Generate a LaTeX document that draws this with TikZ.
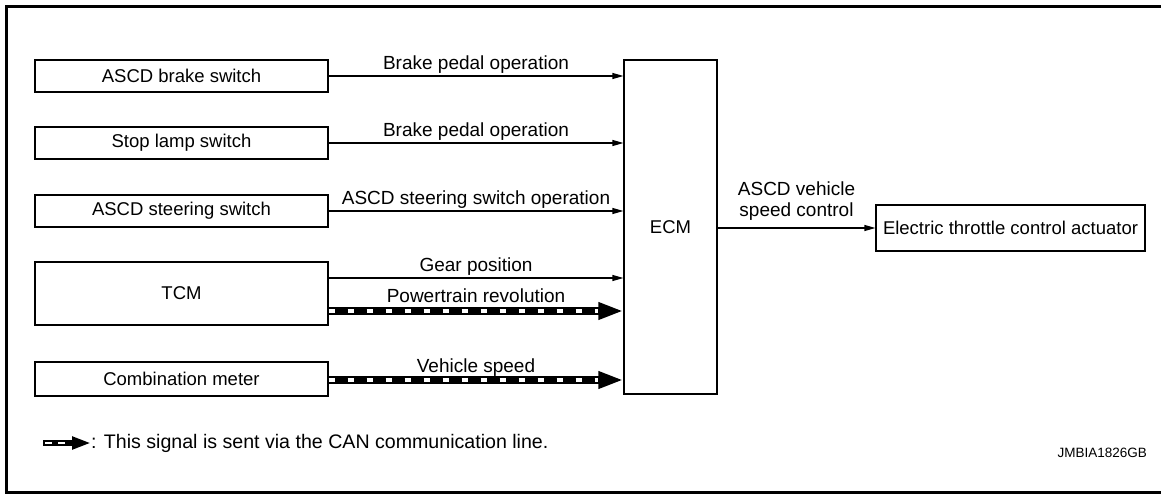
\documentclass[tikz,border=0pt]{standalone}
\usepackage{fontspec}
\setmainfont{Liberation Sans}
\usetikzlibrary{arrows.meta,calc}
\begin{document}
\begin{tikzpicture}[x=1pt,y=-1pt,
  box/.style={draw,line width=1.2pt,inner sep=0pt,font=\fontsize{18.5}{20}\selectfont},
  lbl/.style={inner sep=0pt,anchor=base,font=\fontsize{19}{20}\selectfont},
  sig/.style={line width=1.2pt,-{Triangle[length=11pt,width=6pt]}},
  canblack/.style={line width=8pt,-{Triangle[length=25pt,width=16pt]}},
  canwhite/.style={line width=4pt,white,dash pattern=on 6.5pt off 12.5pt}
]
\useasboundingbox (0,0) rectangle (1161,494);
\draw[line width=3pt] (6.5,6.5) rectangle (1164,492.5);

\node[box,minimum width=293pt,minimum height=32pt] (b1) at (181.5,76) {ASCD brake switch};
\node[box,minimum width=293pt,minimum height=32pt] (b2) at (181.5,143) {Stop lamp switch};
\node[box,minimum width=293pt,minimum height=32pt] (b3) at (181.5,211) {ASCD steering switch};
\node[box,minimum width=293pt,minimum height=63pt] (tcm) at (181.5,293.5) {TCM};
\node[box,minimum width=293pt,minimum height=34pt] (comb) at (181.5,379) {Combination meter};
\node[box,minimum width=93pt,minimum height=334pt] (ecm) at (670.5,227) {ECM};
\node[box,minimum width=269pt,minimum height=46pt] (act) at (1010.5,228) {Electric throttle control actuator};

% thin signals
\draw[sig] (b1.east) -- (ecm.west |- b1.east) node[lbl,midway,yshift=6pt] {Brake pedal operation};
\draw[sig] (b2.east) -- (ecm.west |- b2.east) node[lbl,midway,yshift=6pt] {Brake pedal operation};
\draw[sig] (b3.east) -- (ecm.west |- b3.east) node[lbl,midway,yshift=6pt] {ASCD steering switch operation};
\coordinate (g1) at ([yshift=15.5pt]tcm.east);
\draw[sig] (g1) -- (ecm.west |- g1) node[lbl,midway,yshift=6pt] {Gear position};

% CAN signals
\coordinate (p1) at ([yshift=-17.5pt]tcm.east);
\coordinate (p2) at (ecm.west |- p1);
\draw[canblack] (p1) -- (p2);
\draw[canwhite] (p1) -- ($(p2)+(-25,0)$);
\path (p1) -- (p2) node[lbl,midway,yshift=9pt] {Powertrain revolution};

\coordinate (v1) at ([yshift=-1pt]comb.east);
\coordinate (v2) at (ecm.west |- v1);
\draw[canblack] (v1) -- (v2);
\draw[canwhite] (v1) -- ($(v2)+(-25,0)$);
\path (v1) -- (v2) node[lbl,midway,yshift=8pt] {Vehicle speed};

% output
\draw[sig] (ecm.east |- act.west) -- (act.west)
  node[midway,anchor=south,yshift=7pt,inner sep=0pt,align=center,font=\fontsize{19}{20.5}\selectfont] {ASCD vehicle\\speed control};

% legend
\coordinate (l1) at (43,443);
\coordinate (l2) at (91,443);
\draw[line width=6pt,-{Triangle[length=19pt,width=12pt]}] (l1) -- (l2);
\draw[line width=2.5pt,white,dash pattern=on 7pt off 6pt,dash phase=-2pt] (l1) -- ($(l2)+(-24,0)$);
\node[anchor=west,inner sep=0pt,font=\fontsize{19.6}{21}\selectfont] (leg) at (l2) {: This signal is sent via the CAN communication line.};

\node[anchor=base east,inner sep=0pt,font=\fontsize{13.5}{15}\selectfont] (code) at (1147,457) {JMBIA1826GB};
\end{tikzpicture}
\end{document}
